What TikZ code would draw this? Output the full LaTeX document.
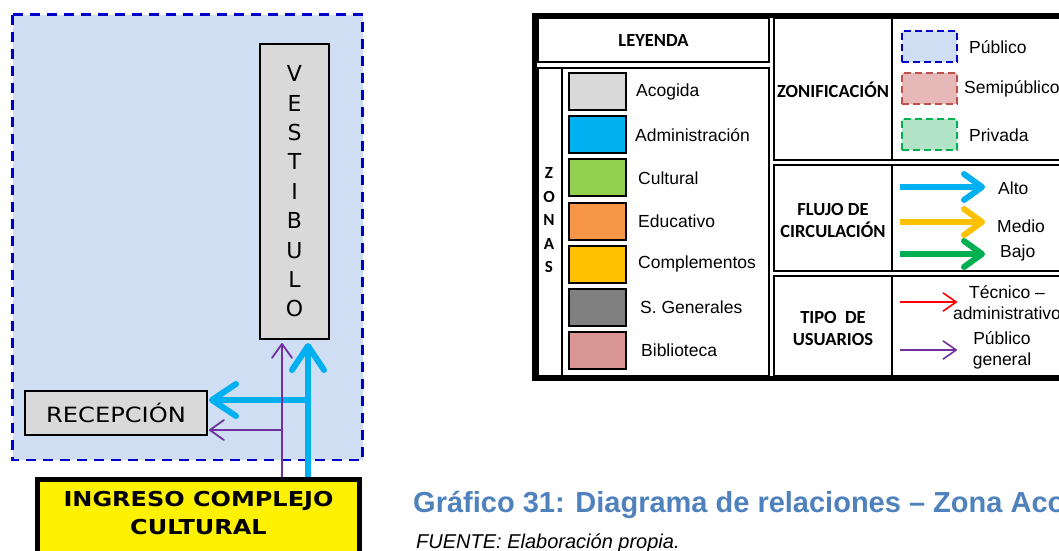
\documentclass[tikz,border=0pt]{standalone}
\usepackage{fontspec}
\setmainfont{Liberation Sans}
\newfontfamily\calib{Carlito}
\newfontfamily\wideface{DejaVu Sans}
\usetikzlibrary{arrows.meta}
\definecolor{zonaB}{RGB}{207,222,243}
\definecolor{zonaBd}{RGB}{0,0,204}
\definecolor{zonaS}{RGB}{230,185,184}
\definecolor{zonaSd}{RGB}{192,80,77}
\definecolor{zonaP}{RGB}{178,227,199}
\definecolor{zonaPd}{RGB}{0,176,80}
\definecolor{altoC}{RGB}{0,176,240}
\definecolor{medioC}{RGB}{255,192,0}
\definecolor{bajoC}{RGB}{0,176,80}
\definecolor{tecC}{RGB}{255,0,0}
\definecolor{pubC}{RGB}{112,48,160}
\definecolor{capC}{RGB}{79,129,189}
\definecolor{acoC}{RGB}{217,217,217}
\definecolor{culC}{RGB}{146,208,80}
\definecolor{eduC}{RGB}{247,150,70}
\definecolor{sgC}{RGB}{128,128,128}
\definecolor{bibC}{RGB}{217,150,148}

\begin{document}
\begin{tikzpicture}[x=1pt,y=-1pt,
  box/.style={draw=black,line width=2pt,fill=acoC,inner sep=0pt},
  cell/.style={draw=black,line width=1.8pt},
  swatch/.style={draw=black,line width=2pt,minimum width=57pt,minimum height=37pt,inner sep=0pt},
  zswatch/.style={line width=2pt,dash pattern=on 7pt off 4pt,minimum width=55pt,minimum height=31pt,inner sep=0pt},
  lbl/.style={font=\fontsize{17.5}{21}\selectfont,inner sep=0pt},
  head/.style={font=\calib\bfseries\fontsize{18.5}{22}\selectfont,align=center,inner sep=0pt},
  bigtip/.style={-{Straight Barb[length=24pt,width=32pt,round]}},
  smalltip/.style={-{Straight Barb[length=14pt,width=20pt,round]}},
  legtip/.style={-{Straight Barb[length=18pt,width=26pt,round]}},
  thintip/.style={-{Straight Barb[length=13pt,width=18pt,round]}},
  altoline/.style={altoC,line width=6pt,bigtip},
  publine/.style={pubC,line width=1.8pt,smalltip}]
\useasboundingbox (0,0) rectangle (1059,550);
\clip (0,0) rectangle (1059,550);
% zona publica
\fill[zonaB] (12.5,14.5) rectangle (362.5,460);
\draw[zonaBd,line width=2.5pt,dash pattern=on 10pt off 7pt] (12.5,14.5) rectangle (362.5,460);
% ambientes
\node[box,minimum width=69pt,minimum height=295pt,align=center,
  font=\wideface\fontsize{22}{29.4}\selectfont] (vest) at (294.5,191.5) {V\\E\\S\\T\\I\\B\\U\\L\\O};
\node[box,minimum width=182pt,minimum height=44pt,
  font=\wideface\fontsize{21}{24}\selectfont] (rec) at (116,413) {\scalebox{1.15}[1]{RECEPCIÓN}};
\node[draw=black,line width=5pt,fill=yellow,minimum width=322pt,minimum height=100pt,anchor=north] (ingreso) at (198.5,477) {};
\node[font=\wideface\bfseries\fontsize{20.5}{28}\selectfont,align=center] (ingtxt) at (198.5,513.5)
  {\scalebox{1.17}[1]{INGRESO COMPLEJO}\\\scalebox{1.17}[1]{CULTURAL}};
% flujos
\coordinate (bx) at (308,0); \coordinate (px) at (282,0);
\coordinate (by) at (0,400); \coordinate (py) at (0,430);
\draw[altoline,shorten >=3pt] (ingreso.north -| bx) -- (vest.south -| bx);
\draw[altoline,shorten >=1pt] (bx |- by) -- (rec.east |- by);
\draw[publine,shorten >=3pt] (ingreso.north -| px) -- (vest.south -| px);
\draw[publine,shorten >=1pt] (px |- py) -- (rec.east |- py);
% leyenda
\draw[cell] (538,18) rectangle (769,62);
\draw[cell] (538,68) rectangle (769,376);
\draw[cell] (562,68) -- (562,376);
\foreach \ya/\yb in {18/160,165/271,276/376} {
  \draw[cell] (774,\ya) rectangle (1080,\yb);
  \draw[cell] (892,\ya) -- (892,\yb);
}
\draw[line width=5pt] (534.5,15.5) rectangle (1080,378.5);
\node[head] (leyenda) at (653.5,40) {LEYENDA};
\node[head,font=\calib\bfseries\fontsize{17}{23.5}\selectfont] (zonas) at (549,220.5) {Z\\O\\N\\A\\S};
\foreach \i/\col/\txt/\lx in {0/acoC/Acogida/636,1/altoC/Administración/635,2/culC/Cultural/638,
  3/eduC/Educativo/638,4/medioC/Complementos/638,5/sgC/S. Generales/640,6/bibC/Biblioteca/641} {
  \node[swatch,fill=\col] (sw\i) at (597.5,91.5+43.2*\i) {};
  \node[lbl,anchor=west] (lb\i) at (\lx,91.5+43.2*\i) {\txt};
}
% zonificacion
\node[head] (zonif) at (833,90) {ZONIFICACIÓN};
\node[zswatch,draw=zonaBd,fill=zonaB] (zpub) at (929.5,46.5) {};
\node[zswatch,draw=zonaSd,fill=zonaS] (zsemi) at (929.5,88.5) {};
\node[zswatch,draw=zonaPd,fill=zonaP] (zpriv) at (929.5,134) {};
\node[lbl,anchor=west] (lpub) at (969,47) {Público};
\node[lbl,anchor=west] (lsemi) at (964,89) {Semipúblico};
\node[lbl,anchor=west] (lpriv) at (969,135) {Privada};
% flujo de circulacion
\node[head] (flujo) at (833,220) {FLUJO DE\\CIRCULACIÓN};
\node[lbl,anchor=west] (alto) at (998,188) {Alto};
\node[lbl,anchor=west] (medio) at (997,226) {Medio};
\node[lbl,anchor=west] (bajo) at (1000,253) {Bajo};
\draw[altoC,line width=6pt,legtip] (900,187) -- (985,187);
\draw[medioC,line width=6pt,legtip] (900,222) -- (985,222);
\draw[bajoC,line width=6pt,legtip] (900,254) -- (985,254);
% tipo de usuarios
\node[head] (tipo) at (833,328) {TIPO~ DE\\USUARIOS};
\node[lbl,align=center] (ltec) at (1007,303) {Técnico –\\administrativo};
\node[lbl,align=center] (lgen) at (1002,350) {Público\\general};
\draw[tecC,line width=1.6pt,thintip] (900,302) -- (957,302);
\draw[pubC,line width=1.6pt,thintip] (900,350) -- (957,350);
% titulo
\node[anchor=base west,inner sep=0pt,text=capC,font=\bfseries\fontsize{29}{31}\selectfont] (titulo) at (413,512)
  {Gráfico 31: Diagrama de relaciones – Zona Aco};
\node[anchor=base west,inner sep=0pt,font=\itshape\fontsize{20}{24}\selectfont] (fuente) at (416,548)
  {FUENTE: Elaboración propia.};
\end{tikzpicture}
\end{document}
